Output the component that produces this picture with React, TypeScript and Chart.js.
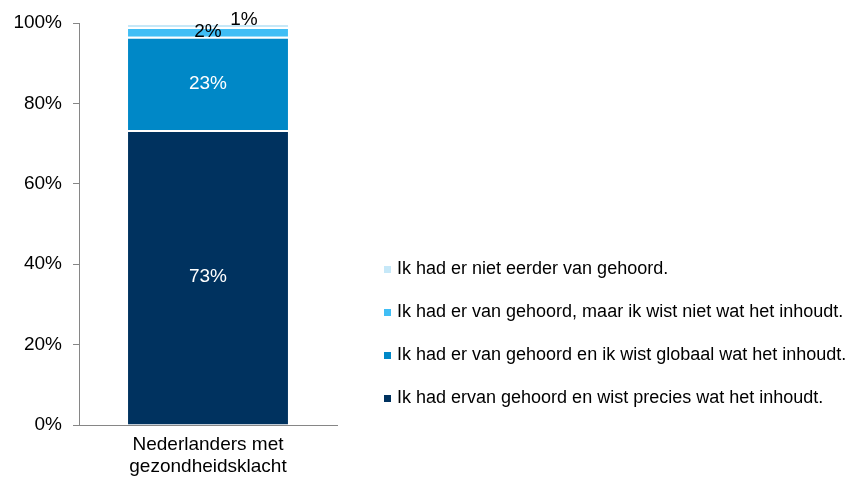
import React, { useEffect, useRef } from "react";
import { Chart, registerables } from "chart.js";

Chart.register(...registerables);

const categories: string[][] = [["Nederlanders met", "gezondheidsklacht"]];
const seriesLabels: string[] = [
  "Ik had ervan gehoord en wist precies wat het inhoudt.",
  "Ik had er van gehoord en ik wist globaal wat het inhoudt.",
  "Ik had er van gehoord, maar ik wist niet wat het inhoudt.",
  "Ik had er niet eerder van gehoord.",
];
const seriesValues: number[][] = [[73.4], [23.2], [2.4], [1.0]];
const seriesColors: string[] = ["#00325F", "#0088C7", "#40BEF5", "#C6E8F8"];
const labelColors: string[] = ["#FFFFFF", "#FFFFFF", "#000000", "#000000"];
const yTicks: number[] = [0, 20, 40, 60, 80, 100];

const FONT = "'Liberation Sans', Arial, sans-serif";

const valueLabelPlugin = {
  id: "valueLabels",
  afterDatasetsDraw(chart: any) {
    const ctx = chart.ctx;
    ctx.save();
    ctx.font = `19px ${FONT}`;
    ctx.textAlign = "center";
    ctx.textBaseline = "middle";
    chart.data.datasets.forEach((ds: any, di: number) => {
      const meta = chart.getDatasetMeta(di);
      meta.data.forEach((el: any, i: number) => {
        const v = ds.data[i];
        const cx = el.x + (di === 3 ? 36 : 0);
        const cy = (el.y + el.base) / 2 + (di === 3 ? -5 : 0);
        ctx.fillStyle = labelColors[di];
        ctx.fillText(`${Math.round(v)}%`, cx, cy);
      });
    });
    ctx.restore();
  },
};

const legendPlugin = {
  id: "customLegend",
  afterDraw(chart: any) {
    const ctx = chart.ctx;
    ctx.save();
    ctx.font = `18px ${FONT}`;
    ctx.textAlign = "left";
    ctx.textBaseline = "middle";
    const n = chart.data.datasets.length;
    for (let k = 0; k < n; k++) {
      const di = n - 1 - k;
      const ds = chart.data.datasets[di];
      const y = 269 + k * 43;
      ctx.fillStyle = ds.backgroundColor;
      ctx.fillRect(384, y - 3, 7, 7);
      ctx.fillStyle = "#000000";
      ctx.fillText(ds.label, 397, y);
    }
    ctx.restore();
  },
};

export default function App() {
  const ref = useRef<HTMLCanvasElement | null>(null);
  useEffect(() => {
    if (!ref.current) return;
    const chart = new Chart(ref.current, {
      type: "bar",
      data: {
        labels: categories as any,
        datasets: seriesValues.map((vals, i) => ({
          label: seriesLabels[i],
          data: vals,
          backgroundColor: seriesColors[i],
          borderColor: "#FFFFFF",
          borderWidth: { top: 2, right: 0, bottom: 0, left: 0 },
          borderSkipped: false,
          categoryPercentage: 1,
          barPercentage: 0.62,
        })),
      },
      options: {
        responsive: false,
        animation: false,
        layout: { padding: { top: 23, right: 514, bottom: 0, left: 0 } },
        plugins: {
          legend: { display: false },
          tooltip: { enabled: false },
          title: { display: false },
        },
        scales: {
          x: {
            stacked: true,
            grid: { display: true, drawOnChartArea: false, drawTicks: false },
            border: { display: true, color: "#868686", width: 1 },
            ticks: {
              color: "#000000",
              font: { family: FONT, size: 19, lineHeight: 1.15 },
              padding: 9,
              maxRotation: 0,
            },
            afterFit(scale: any) {
              scale.height = 56;
            },
          },
          y: {
            stacked: true,
            min: 0,
            max: 100,
            afterBuildTicks(scale: any) {
              scale.ticks = yTicks.map((v) => ({ value: v }));
            },
            grid: {
              display: true,
              drawOnChartArea: false,
              drawTicks: true,
              tickLength: 6,
              color: "#868686",
            },
            border: { display: true, color: "#868686", width: 1 },
            ticks: {
              color: "#000000",
              font: { family: FONT, size: 19 },
              padding: 11,
              callback: (v: any) => `${v}%`,
            },
            afterFit(scale: any) {
              scale.width = 79;
            },
          },
        },
      },
      plugins: [valueLabelPlugin, legendPlugin],
    });
    return () => chart.destroy();
  }, []);
  return (
    <div style={{ position: "absolute", left: 0, top: 0, width: 851, height: 481, background: "#fff" }}>
      <canvas ref={ref} width={851} height={481} />
    </div>
  );
}
